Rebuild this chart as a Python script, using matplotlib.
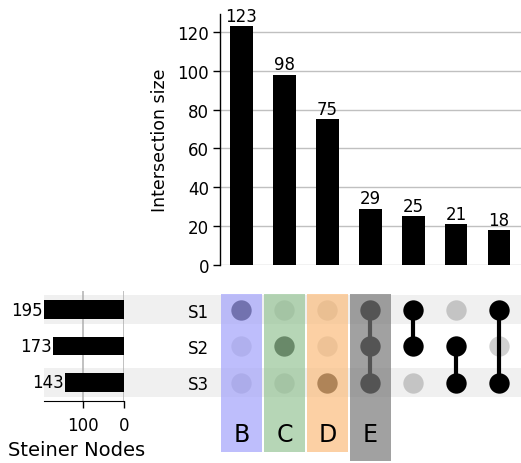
import numpy as np
import matplotlib
matplotlib.use("Agg")
import matplotlib.pyplot as plt
from matplotlib.patches import Rectangle

# set names and intersection membership
sets = ["S1", "S2", "S3"]
members = [
    ["S1"],
    ["S2"],
    ["S3"],
    ["S1", "S2", "S3"],
    ["S1", "S2"],
    ["S2", "S3"],
    ["S1", "S3"],
]
inter_sizes = [123, 98, 75, 29, 25, 21, 18]
set_totals = [195, 173, 143]
totals_label = "Steiner Nodes"

# highlighted columns with their letter and colour
hl_cols = [0, 1, 2, 3]
hl_letters = ["B", "C", "D", "E"]
hl_colors = ["#a3a3fb", "#97c597", "#fbbd7e", "#797979"]
hl_bottom = [3.9, 3.9, 3.9, 4.15]

W, H = 521, 464
fig = plt.figure(figsize=(W / 100, H / 100), dpi=100)


def px_axes(l, t, r, b, **kw):
    return fig.add_axes([l / W, 1 - b / H, (r - l) / W, (b - t) / H], **kw)


FS = 12
n = len(inter_sizes)
xs = np.arange(n)
ys = np.arange(len(sets))

# shaded row bands behind totals + matrix
ax_bg = px_axes(44, 292.25, 521, 401.75)
ax_bg.set_xlim(0, 1)
ax_bg.set_ylim(2.5, -0.5)
for r in range(0, len(sets), 2):
    ax_bg.axhspan(r - 0.4, r + 0.4, color="#f0f0f0", lw=0)
ax_bg.axis("off")

# intersection size bars
ax_bar = px_axes(220, 15, 520.5, 266)
ax_bar.bar(xs, inter_sizes, width=0.53, color="black", zorder=3)
for x, v in zip(xs, inter_sizes):
    ax_bar.annotate(str(v), (x, v), xytext=(0, 1), textcoords="offset points",
                    ha="center", va="bottom", fontsize=FS)
ax_bar.set_xlim(-0.5, n - 0.5)
ax_bar.set_ylim(0, max(inter_sizes) * 1.05)
ax_bar.set_yticks(np.arange(0, 121, 20))
ax_bar.set_xticks([])
ax_bar.yaxis.grid(True, color="#c0c0c0", lw=1.0)
ax_bar.set_axisbelow(True)
for s in ["top", "right", "bottom"]:
    ax_bar.spines[s].set_visible(False)
ax_bar.spines["left"].set_linewidth(1.0)
ax_bar.tick_params(axis="y", labelsize=FS, length=5, width=1.0, pad=3)
ax_bar.set_ylabel("Intersection size", fontsize=12.5, labelpad=6)
ax_bar.patch.set_alpha(0)

# set totals (bars grow to the left)
ax_tot = px_axes(44, 292.25, 124, 401.75)
ax_tot.barh(ys, set_totals, height=0.5, color="black", zorder=3)
for y, v in zip(ys, set_totals):
    ax_tot.annotate(str(v), (v, y), xytext=(-1, 0), textcoords="offset points",
                    ha="right", va="center", fontsize=FS)
ax_tot.set_xlim(max(set_totals), 0)
ax_tot.set_ylim(2.5, -0.5)
ax_tot.set_xticks([100, 0])
ax_tot.set_yticks([])
ax_tot.xaxis.grid(True, color="#b0b0b0", lw=1.1)
ax_tot.set_axisbelow(True)
for s in ["top", "right", "left"]:
    ax_tot.spines[s].set_visible(False)
ax_tot.tick_params(axis="x", labelsize=FS, length=5, width=1.0, pad=6)
ax_tot.set_xlabel(totals_label, fontsize=14, labelpad=4)
ax_tot.xaxis.set_label_coords(0.41, -0.36)
ax_tot.patch.set_alpha(0)

# membership matrix
ax_m = px_axes(220, 292.25, 520.5, 401.75)
ax_m.set_xlim(-0.5, n - 0.5)
ax_m.set_ylim(2.5, -0.5)
for x, mem in enumerate(members):
    rows = [sets.index(s) for s in mem]
    for y, name in enumerate(sets):
        if name in mem:
            ax_m.scatter(x, y, s=215, color="black", lw=0, zorder=3)
        else:
            ax_m.scatter(x, y, s=215, color="black", alpha=0.18, lw=0, zorder=3)
    if len(rows) > 1:
        ax_m.plot([x, x], [min(rows), max(rows)], color="black", lw=3, zorder=4)

# coloured overlays with letters
for c, letter, col, bot in zip(hl_cols, hl_letters, hl_colors, hl_bottom):
    ax_m.add_patch(Rectangle((c - 0.477, -0.43), 0.954, bot + 0.43,
                             facecolor=col, alpha=0.7, lw=0, zorder=5,
                             clip_on=False))
    ax_m.text(c, 3.4, letter, ha="center", va="center", fontsize=17,
              zorder=6, clip_on=False)

ax_m.set_yticks(ys)
ax_m.set_yticklabels(sets, fontsize=FS)
ax_m.set_xticks([])
ax_m.tick_params(axis="y", length=0, pad=8)
for s in ax_m.spines.values():
    s.set_visible(False)
ax_m.patch.set_alpha(0)

fig.savefig("out.png", dpi=100)
